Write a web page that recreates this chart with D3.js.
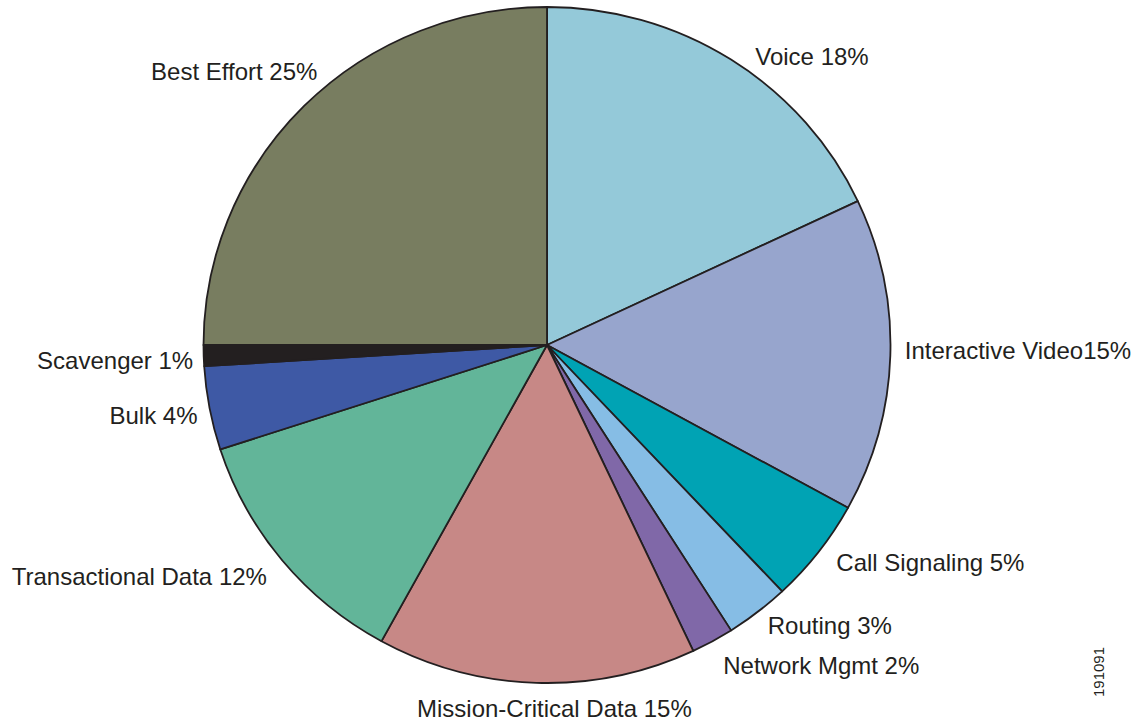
<!DOCTYPE html>
<html>
<head>
<meta charset="utf-8">
<script src="https://cdn.jsdelivr.net/npm/d3@7"></script>
<style>
  body { margin: 0; background: #fff; }
  text { font-family: "Liberation Sans", Arial, sans-serif; fill: #231f20; }
</style>
</head>
<body>
<div id="chart"></div>
<script>
var categories = ["Voice", "Interactive Video", "Call Signaling", "Routing", "Network Mgmt",
    "Mission-Critical Data", "Transactional Data", "Bulk", "Scavenger", "Best Effort"];
var values = [18, 15, 5, 3, 2, 15, 12, 4, 1, 25];
var labels = ["Voice 18%", "Interactive Video15%", "Call Signaling 5%", "Routing 3%", "Network Mgmt 2%",
    "Mission-Critical Data 15%", "Transactional Data 12%", "Bulk 4%", "Scavenger 1%", "Best Effort 25%"];
var colors = ["#94c9d9", "#97a5cd", "#00a3b4", "#86bde5", "#8068a8",
    "#c78886", "#62b599", "#3e59a5", "#231f20", "#787d60"];

// hand nudges for label placement
var nudges = [[10, 32], [-12, 2], [-3, -1], [-6, -3], [-2, 5],
    [19, 2], [5, 4], [14, 10], [16, 12], [32, -3]];

function init() {
    var w = 1148;
    var h = 721;
    var cx = 547, cy = 345;
    var rx = 343.5, ry = 338;

    var svg = d3.select("#chart")
        .append("svg")
        .attr("width", w)
        .attr("height", h);

    var data = categories.map(function(c, i) {
        return { name: c, value: values[i], label: labels[i], i: i };
    });

    var pie = d3.pie()
        .sort(null)
        .value(function(d) { return d.value; });

    var arcs = pie(data);

    var arc = d3.arc().innerRadius(0).outerRadius(rx);
    var labelArc = d3.arc().innerRadius(370).outerRadius(370);

    var g = svg.append("g")
        .attr("transform", "translate(" + cx + "," + cy + ") scale(1," + (ry / rx) + ")");

    g.selectAll("path")
        .data(arcs)
        .enter()
        .append("path")
        .attr("d", arc)
        .attr("fill", function(d) { return colors[d.data.i]; })
        .attr("stroke", "#231f20")
        .attr("stroke-width", 1.8)
        .attr("stroke-linejoin", "round");

    var lg = svg.append("g")
        .attr("transform", "translate(" + cx + "," + cy + ")");

    lg.selectAll("text")
        .data(arcs)
        .enter()
        .append("text")
        .attr("x", function(d) { return labelArc.centroid(d)[0] + nudges[d.data.i][0]; })
        .attr("y", function(d) { return labelArc.centroid(d)[1] + nudges[d.data.i][1]; })
        .attr("text-anchor", function(d) {
            var mid = (d.startAngle + d.endAngle) / 2;
            if (Math.abs(mid - Math.PI) < 0.2) return "middle";
            return mid < Math.PI ? "start" : "end";
        })
        .style("font-size", "24px")
        .text(function(d) { return d.data.label; });

    svg.append("text")
        .attr("transform", "translate(1104,672) rotate(-90)")
        .attr("text-anchor", "middle")
        .style("font-size", "15px")
        .text("191091");
}

window.onload = init;
</script>
</body>
</html>
